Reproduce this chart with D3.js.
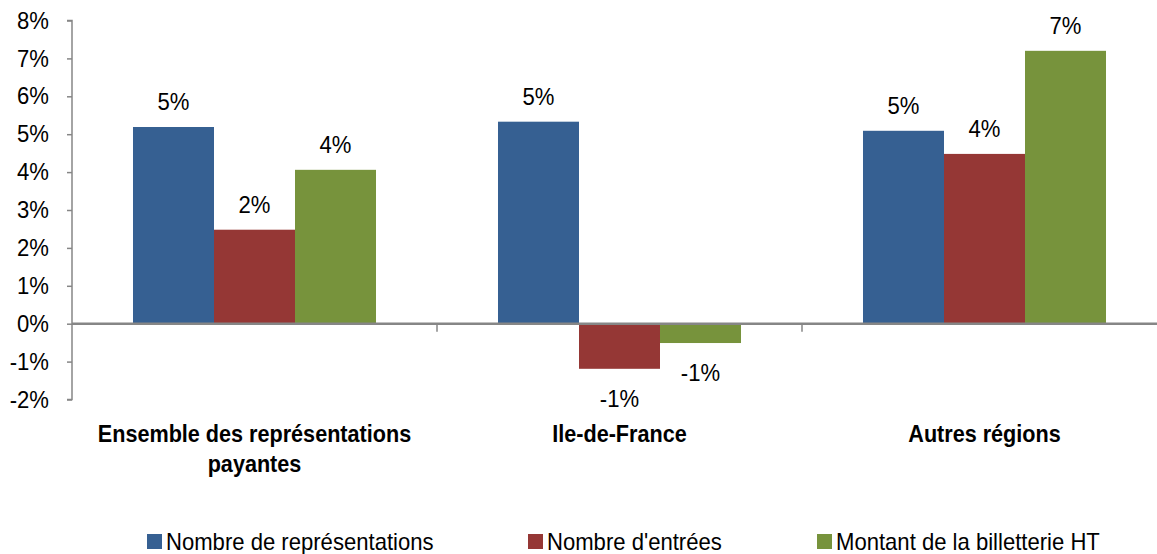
<!DOCTYPE html>
<html>
<head>
<meta charset="utf-8">
<script src="https://cdn.jsdelivr.net/npm/d3@7"></script>
<style>
  body { margin: 0; background: #fff; }
  svg { display: block; font-family: "Liberation Sans", Arial, sans-serif; }
</style>
</head>
<body>
<div id="chart"></div>
<script>
// data (percent)
const categories = [["Ensemble des représentations", "payantes"], ["Ile-de-France"], ["Autres régions"]];
const seriesNames = ["Nombre de représentations", "Nombre d'entrées", "Montant de la billetterie HT"];
const seriesColors = ["#366092", "#953735", "#77933c"];
const representations = [5.19, 5.33, 5.09];
const entrees = [2.48, -1.19, 4.48];
const billetterie = [4.06, -0.51, 7.2];
const yTicks = [-2, -1, 0, 1, 2, 3, 4, 5, 6, 7, 8];

const series = [representations, entrees, billetterie];

const width = 1157, height = 554;
const axisColor = "#868686";
const fontSize = 24;
// Arial Narrow look: squeeze Liberation Sans horizontally
const narrow = 0.92, narrowBold = 0.9;

const svg = d3.select("#chart").append("svg")
  .attr("width", width)
  .attr("height", height);

// scales
const y = d3.scaleLinear().domain([-2, 8]).range([399.5, 20.5]);
const x0 = d3.scaleBand().domain(d3.range(categories.length)).range([72, 1167]).paddingInner(0).paddingOuter(0);
const x1 = d3.scaleBand().domain(d3.range(series.length)).range([0, x0.bandwidth()]).paddingInner(0).paddingOuter(0.753);

const fmt = d => Math.round(d) + "%";

// y axis
const yAxis = svg.append("g")
  .attr("transform", "translate(72,0)")
  .call(d3.axisLeft(y).tickValues(yTicks).tickSize(5).tickPadding(18).tickFormat(d => d + "%"));
yAxis.select(".domain").attr("stroke", axisColor).attr("stroke-width", 1.5).attr("d", `M-5,${y(8)}H0V${y(-2)}H-5`);
yAxis.selectAll(".tick line").attr("stroke", axisColor).attr("stroke-width", 1.5);
yAxis.selectAll(".tick text")
  .attr("font-size", fontSize)
  .attr("font-family", null)
  .attr("fill", "#000");

// bars
const groups = svg.append("g").selectAll("g")
  .data(categories)
  .join("g")
  .attr("transform", (d, i) => `translate(${x0(i)},0)`);

groups.selectAll("rect")
  .data((d, i) => series.map((s, j) => ({ j, v: s[i] })))
  .join("rect")
  .attr("x", d => x1(d.j))
  .attr("width", x1.bandwidth())
  .attr("y", d => y(Math.max(0, d.v)))
  .attr("height", d => Math.abs(y(d.v) - y(0)))
  .attr("fill", d => seriesColors[d.j]);

groups.selectAll("text.val")
  .data((d, i) => series.map((s, j) => ({ j, v: s[i] })))
  .join("text")
  .attr("class", "val")
  .attr("x", d => x1(d.j) + x1.bandwidth() / 2)
  .attr("y", d => d.v >= 0 ? y(d.v) - 17 : y(d.v) + 38)
  .attr("text-anchor", "middle")
  .attr("font-size", fontSize)
  .attr("fill", "#000")
  .text(d => fmt(d.v));

// zero line with category dividers
svg.append("line")
  .attr("x1", 72).attr("x2", width)
  .attr("y1", y(0)).attr("y2", y(0))
  .attr("stroke", axisColor).attr("stroke-width", 2.5);

svg.append("g").selectAll("line")
  .data(d3.range(1, categories.length))
  .join("line")
  .attr("x1", i => x0(i)).attr("x2", i => x0(i))
  .attr("y1", y(0)).attr("y2", y(0) + 8)
  .attr("stroke", axisColor).attr("stroke-width", 1.5);

// category labels
groups.append("text")
  .attr("x", x0.bandwidth() / 2)
  .attr("y", 442)
  .attr("text-anchor", "middle")
  .attr("font-size", fontSize)
  .attr("font-weight", "bold")
  .attr("fill", "#000")
  .selectAll("tspan")
  .data(d => d)
  .join("tspan")
  .attr("x", x0.bandwidth() / 2)
  .attr("dy", (d, i) => i === 0 ? 0 : 30)
  .text(d => d);

// legend
const legendX = [147, 528, 817];
const legend = svg.append("g").selectAll("g")
  .data(seriesNames)
  .join("g")
  .attr("transform", (d, i) => `translate(${legendX[i]},534)`);
legend.append("rect")
  .attr("width", 15).attr("height", 15)
  .attr("fill", (d, i) => seriesColors[i]);
legend.append("text")
  .attr("x", 19).attr("y", 16)
  .attr("font-size", fontSize)
  .attr("fill", "#000")
  .text(d => d);

// squeeze every text / tspan to a narrow width
svg.selectAll("text").each(function () {
  const el = d3.select(this);
  const k = el.attr("font-weight") === "bold" ? narrowBold : narrow;
  const spans = el.selectAll("tspan");
  const targets = spans.empty() ? [this] : spans.nodes();
  targets.forEach(n => {
    const w = n.getComputedTextLength();
    d3.select(n).attr("textLength", w * k).attr("lengthAdjust", "spacingAndGlyphs");
  });
});
</script>
</body>
</html>
